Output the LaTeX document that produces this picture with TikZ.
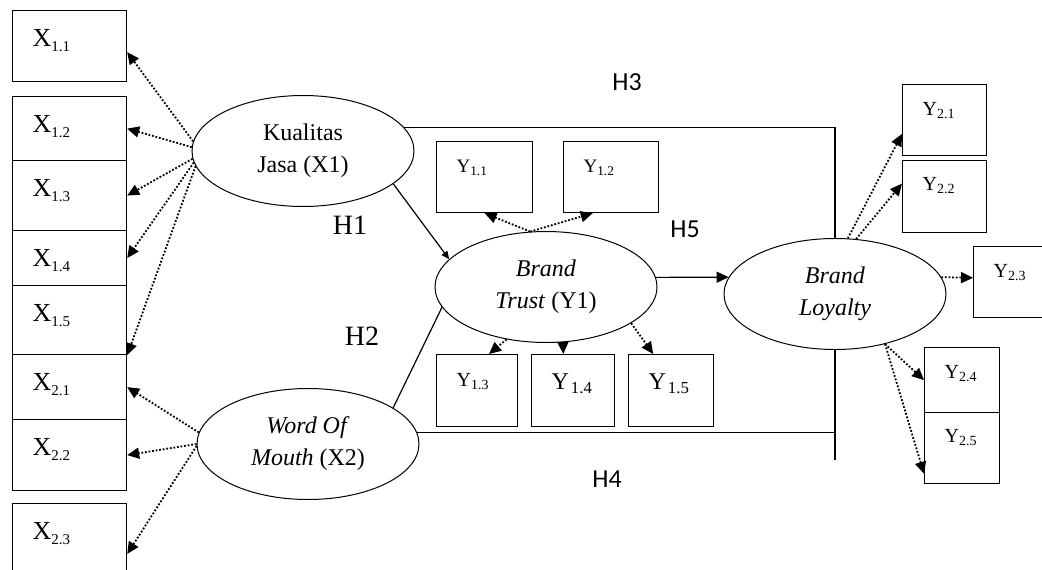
\documentclass[tikz,border=0pt]{standalone}
\usepackage{fontspec}
\setmainfont{Liberation Serif}
\newfontfamily\hfont{Carlito}
\usetikzlibrary{arrows.meta,shapes.geometric}
\newcommand{\xsub}[1]{\raisebox{-5pt}{\fontsize{15}{15}\selectfont #1}}

\begin{document}
\begin{tikzpicture}[x=1pt,y=-1pt,
  ind/.style n args={3}{draw,line width=1.2pt,anchor=north west,inner xsep=20pt,inner ysep=0pt,align=left,text width=#1pt,text height=#2pt,text depth=#3pt},
  latent/.style={draw,ellipse,line width=1pt,minimum width=222pt,minimum height=111pt,inner sep=0pt,align=center,font=\fontsize{24}{32}\selectfont},
  load/.style={line width=1.8pt,dash pattern=on 1.8pt off 1.8pt,-{Triangle[length=12pt,width=11pt]}},
  hyp/.style={line width=1.2pt},
  hlab/.style={font=\hfont\fontsize{26}{26}\selectfont,anchor=base},
  slab/.style={font=\fontsize{28}{28}\selectfont,anchor=base}]
\useasboundingbox (0,0) rectangle (1042,570);
% indicators X1
\node[ind={74}{36}{35},font=\fontsize{26}{26}\selectfont] (x11) at (12,10) {X\xsub{1.1}};
\node[ind={74}{36}{28},font=\fontsize{26}{26}\selectfont] (x12) at (12,96) {X\xsub{1.2}};
\node[ind={74}{36}{34},font=\fontsize{26}{26}\selectfont] (x13) at (12,160) {X\xsub{1.3}};
\node[ind={74}{36}{19},font=\fontsize{26}{26}\selectfont] (x14) at (12,230) {X\xsub{1.4}};
\node[ind={74}{36}{33},font=\fontsize{26}{26}\selectfont] (x15) at (12,285) {X\xsub{1.5}};
% indicators X2
\node[ind={74}{36}{29},font=\fontsize{26}{26}\selectfont] (x21) at (12,354) {X\xsub{2.1}};
\node[ind={74}{36}{35},font=\fontsize{26}{26}\selectfont] (x22) at (12,419) {X\xsub{2.2}};
\node[ind={74}{36}{36},font=\fontsize{26}{26}\selectfont] (x23) at (12,503) {X\xsub{2.3}};
% indicators Y1
\node[ind={56}{31}{40},font=\fontsize{19}{19}\selectfont] (y11) at (436,141) {Y\textsubscript{1.1}};
\node[ind={55}{31}{40},font=\fontsize{19}{19}\selectfont] (y12) at (563,141) {Y\textsubscript{1.2}};
\node[ind={41}{32}{40},font=\fontsize{20}{20}\selectfont] (y13) at (436,354) {Y\textsubscript{1.3}};
\node[ind={43}{35}{37},font=\fontsize{24}{24}\selectfont] (y14) at (531,354) {Y\hspace{2pt}\textsubscript{1.4}};
\node[ind={45}{35}{37},font=\fontsize{24}{24}\selectfont] (y15) at (628,354) {Y\hspace{2pt}\textsubscript{1.5}};
% indicators Y2
\node[ind={44}{31}{40},font=\fontsize{20}{20}\selectfont] (y21) at (902,84) {Y\textsubscript{2.1}};
\node[ind={44}{30}{42},font=\fontsize{20}{20}\selectfont] (y22) at (902,160) {Y\textsubscript{2.2}};
\node[ind={40}{31}{40},font=\fontsize{20}{20}\selectfont] (y23) at (973,246) {Y\textsubscript{2.3}};
\node[ind={35}{31}{34},font=\fontsize{20}{20}\selectfont] (y24) at (924,347) {Y\textsubscript{2.4}};
\node[ind={35}{30}{41},font=\fontsize{20}{20}\selectfont] (y25) at (924,412) {Y\textsubscript{2.5}};
% latent variables
\node[latent] (kj) at (303,151) {Kualitas\\Jasa (X1)};
\node[latent] (wm) at (308,444) {\textit{Word Of}\\\textit{Mouth} (X2)};
\node[latent] (bt) at (546,287) {\textit{Brand}\\\textit{Trust} (Y1)};
\node[latent] (bl) at (835,294) {\textit{Brand}\\\textit{Loyalty}};
% hypotheses
\node[hlab] (h3) at (627,90) {H3};
\node[slab] (h1) at (350,234) {H1};
\node[slab] (h2) at (362,345) {H2};
\node[hlab] (h5) at (685,237) {H5};
\node[hlab] (h4) at (607,487) {H4};
\path (kj.-20) edge [hyp,-{Triangle[length=8pt,width=7pt]}] (bt.164);
\path (wm.23) edge [hyp] (bt.191);
\path (bt.5) edge [hyp,-{Triangle[length=12pt,width=11pt]}] (bl.171);
\draw[hyp] (kj.13) -| (bl.north);
\coordinate (h4end) at ([yshift=-110pt]bl.south);
\draw[hyp] (wm.6) -| (h4end);
\draw[hyp] (bl.south) -- (h4end);
% loadings
\path (kj.175) edge [load] (x11.-6);
\path (kj.178) edge [load] (x12.east);
\path (kj.184) edge [load] (x13.east);
\path (kj.186) edge [load] (x14.east);
\path (kj.188) edge [load] (x15.south east);
\path (wm.174) edge [load] (x21.east);
\path (wm.180) edge [load] (x22.east);
\path (wm.181) edge [load] (x23.-14);
\path (bt.106) edge [load] (y11.south);
\path (bt.106) edge [load] (y12.-117);
\path (bt.233) edge [load] (y13.72);
\path (bt.-73) edge [load] (y14.105);
\path (bt.-23) edge [load] (y15.116);
\path (bl.77) edge [load] (y21.198);
\path (bl.69) edge [load] (y22.163);
\path (bl.9) edge [load] (y23.174);
\path (bl.-45) edge [load] (y24.west);
\path (bl.-45) edge [load] (y25.214);
\end{tikzpicture}
\end{document}
